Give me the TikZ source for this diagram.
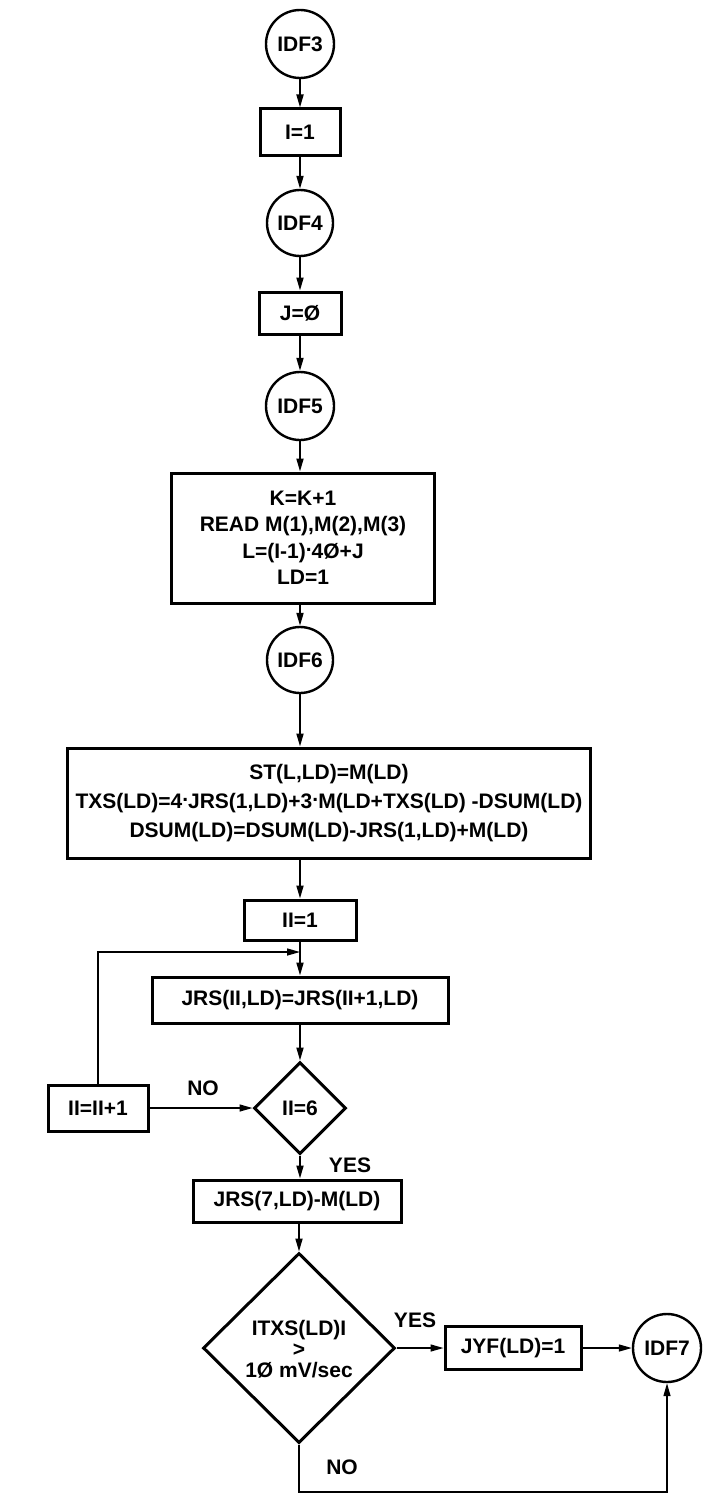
\documentclass[tikz,border=0pt]{standalone}
\usepackage{fontspec}
\setmainfont{Liberation Sans}
\usetikzlibrary{shapes.geometric,arrows.meta}
\newcommand{\mdot}{\raisebox{0.6ex}{.}}
\begin{document}
\begin{tikzpicture}[x=1pt,y=-1pt,
  every node/.style={font=\bfseries\fontsize{21}{26.5}\selectfont},
  boxnode/.style={draw, line width=3pt, rectangle, inner sep=0pt, align=center},
  conn/.style={circle, draw, line width=2.4pt, minimum size=68pt, inner sep=0pt},
  dec/.style={diamond, draw, line width=3pt, inner sep=0pt, aspect=1},
  arr/.style={line width=1.8pt, -{Triangle[length=13pt,width=7pt]}},
  thinarr/.style={line width=1.4pt, -{Triangle[length=13pt,width=7pt]}},
  lbl/.style={inner sep=0pt}]
\useasboundingbox (0,0) rectangle (704,1501);
\fill[white] (0,0) rectangle (704,1501);

\node[conn] (idf3) at (300,44) {IDF3};
\node[boxnode, minimum width=80pt, minimum height=46pt] (i1) at (300,132) {I=1};
\node[conn, minimum size=66pt] (idf4) at (300,223) {IDF4};
\node[boxnode, minimum width=82pt, minimum height=42pt] (j0) at (300,313) {J=Ø};
\node[conn] (idf5) at (300,406) {IDF5};
\node[boxnode, minimum width=263pt, minimum height=130pt] (b1) at (303,538)
  {K=K+1\\READ M(1),M(2),M(3)\\L=(I-1)\mdot4Ø+J\\LD=1};
\node[conn, minimum size=66pt] (idf6) at (300,660) {IDF6};
\node[boxnode, minimum width=523pt, minimum height=110pt,
  font=\bfseries\fontsize{21}{29}\selectfont] (b2) at (329,803)
  {ST(L,LD)=M(LD)\\TXS(LD)=4\mdot JRS(1,LD)+3\mdot M(LD+TXS(LD) -DSUM(LD)\\DSUM(LD)=DSUM(LD)-JRS(1,LD)+M(LD)};
\node[boxnode, minimum width=112pt, minimum height=40pt] (ii1) at (300,920) {II=1};
\node[boxnode, minimum width=296pt, minimum height=46pt] (jrs) at (300,1000) {JRS(II,LD)=JRS(II+1,LD)};
\node[dec, minimum width=92pt, minimum height=92pt] (d6) at (300,1108) {};
\node[lbl] (d6t) at (d6.center) {II=6};
\node[boxnode, minimum width=100pt, minimum height=46pt] (inc) at (98,1108) {II=II+1};
\node[boxnode, minimum width=208pt, minimum height=42pt] (jrs7) at (297,1201) {JRS(7,LD)-M(LD)};
\node[dec, minimum width=192pt, minimum height=190pt] (dtx) at (299,1348) {};
\node[lbl, align=center, font=\bfseries\fontsize{21}{21}\selectfont] (dtxt) at (299,1349)
  {ITXS(LD)I\\>\\1Ø mV/sec};
\node[boxnode, minimum width=136pt, minimum height=43pt] (jyf) at (513,1348) {JYF(LD)=1};
\node[conn] (idf7) at (667,1348) {IDF7};

\coordinate (join) at (300,952);
\coordinate (bl) at (299,1492);

\draw[arr] (idf3) -- (i1);
\draw[arr] (i1) -- (idf4);
\draw[arr] (idf4) -- (j0);
\draw[arr] (j0) -- (idf5);
\draw[arr] (idf5) -- (idf5 |- b1.north);
\draw[arr] (idf6 |- b1.south) -- (idf6);
\draw[arr] (idf6) -- (idf6 |- b2.north);
\draw[arr] (ii1 |- b2.south) -- (ii1);
\draw[arr] (ii1) -- (jrs);
\draw[thinarr] (inc.north) |- (join);
\draw[arr] (jrs) -- (d6);
\draw[thinarr] (inc) -- (d6);
\draw[arr] (d6) -- (d6 |- jrs7.north);
\draw[arr] (dtx |- jrs7.south) -- (dtx);
\draw[thinarr] (dtx) -- (jyf);
\draw[thinarr] (jyf) -- (idf7);
\draw[thinarr] (dtx.south) -- (bl) -| (idf7.south);

\node[lbl] (no1) at (203,1088) {NO};
\node[lbl] (yes1) at (350,1165) {YES};
\node[lbl] (yes2) at (415,1320) {YES};
\node[lbl] (no2) at (342,1467) {NO};
\end{tikzpicture}
\end{document}
